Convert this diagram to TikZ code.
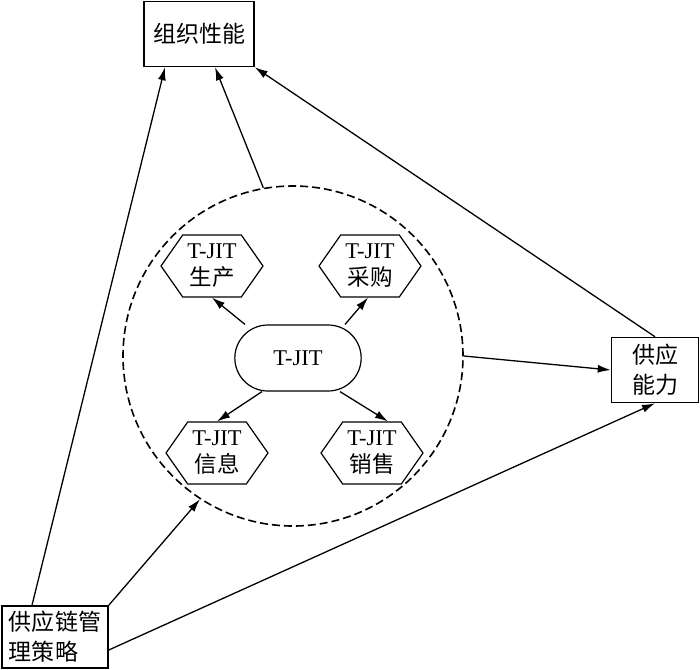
\documentclass[tikz,border=0pt]{standalone}
\usepackage{fontspec}
\setmainfont{Liberation Serif}
\newfontfamily\cjk{Noto Sans CJK SC}
\usetikzlibrary{shapes.misc,shapes.symbols,arrows.meta}
\begin{document}
\begin{tikzpicture}[x=1pt,y=-1pt,
  box/.style={draw,line width=1.5pt,inner sep=0pt,font=\fontsize{23}{30}\selectfont\cjk},
  hexa/.style={draw,line width=1.2pt,signal,signal to=west and east,signal pointer angle=110,
     minimum width=102pt,minimum height=62pt,inner sep=0pt,align=center,
     font=\fontsize{22.5}{27}\selectfont},
  arr/.style={-{Latex[length=13pt,width=8pt]},line width=1.3pt}]
\useasboundingbox (0,0) rectangle (700,669);
\node[box,minimum width=110pt,minimum height=65pt] (perf) at (199,34) {组织性能};
\node[box,minimum width=87pt,minimum height=65pt,align=center] (supply) at (655,370) {供应\\能力};
\node[box,minimum width=106pt,minimum height=62pt,align=left] (strat) at (55,637) {供应链管\\理策略};
\node[draw,circle,dashed,dash pattern=on 8pt off 4pt,line width=1.6pt,minimum size=340pt,inner sep=0pt] (circ) at (293,356) {};
\node[draw,rounded rectangle,line width=1.2pt,minimum width=133pt,minimum height=66pt,font=\fontsize{22.5}{26}\selectfont] (tjit) at (298,358) {T-JIT};
\node[hexa] (h1) at (212,266) {T-JIT\\{\cjk 生产}};
\node[hexa] (h2) at (370,266) {T-JIT\\{\cjk 采购}};
\node[hexa] (h3) at (217,453) {T-JIT\\{\cjk 信息}};
\node[hexa] (h4) at (372,453) {T-JIT\\{\cjk 销售}};
\draw[arr] ([xshift=-53pt]tjit.north) -- (h1.south);
\draw[arr] ([xshift=47pt]tjit.north) -- ([xshift=-2pt]h2.south);
\draw[arr] ([xshift=-36pt]tjit.south) -- (h3.north);
\draw[arr] ([xshift=42pt]tjit.south) -- ([xshift=16pt]h4.north);
\draw[arr] (circ.100.5) -- ([xshift=16pt]perf.south);
\draw[arr] ([xshift=-23pt]strat.north) -- ([xshift=-34pt]perf.south);
\draw[arr] (supply.north) -- (perf.south east);
\draw[arr] (circ.east) -- (supply.west);
\draw[arr] (strat.north east) -- (circ.237);
\draw[arr] ([yshift=-13pt]strat.east) -- (supply.south);
\end{tikzpicture}
\end{document}
